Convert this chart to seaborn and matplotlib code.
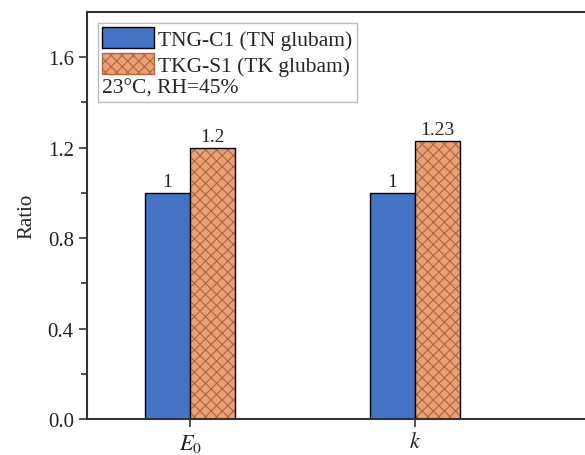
import seaborn as sns
import matplotlib.pyplot as plt
import pandas as pd
from matplotlib.patches import Rectangle

# Data
params = ["$E_0$", "$k$"]
specimens = ["TNG-C1 (TN glubam)", "TKG-S1 (TK glubam)"]
tn_ratio = [1.0, 1.0]
tk_ratio = [1.2, 1.23]
note = "23°C, RH=45%"

df = pd.DataFrame({
    "param": params * 2,
    "ratio": tn_ratio + tk_ratio,
    "specimen": [specimens[0]] * 2 + [specimens[1]] * 2,
})

sns.set_theme(style="ticks")
plt.rcParams["font.family"] = ["Liberation Serif", "DejaVu Serif"]
plt.rcParams["mathtext.fontset"] = "stix"
plt.rcParams["hatch.linewidth"] = 0.8

blue = "#4472C4"
orange = "#E8A074"
hatch_col = "#B0673F"

fig = plt.figure(figsize=(5.85, 4.56), dpi=100)
ax = fig.add_axes([87 / 585, 36 / 456, 533 / 585, 407 / 456])

sns.barplot(data=df, x="param", y="ratio", hue="specimen",
            palette=[blue, orange], saturation=1, width=0.4, edgecolor="black",
            linewidth=1, ax=ax)

# hatch the TK bars with a brownish cross pattern, keep black outline
for patch in ax.containers[1]:
    patch.set_hatch("xxx")
    patch.set_edgecolor(hatch_col)
    patch.set_linewidth(0)
    x, y = patch.get_xy()
    ax.add_patch(Rectangle((x, y), patch.get_width(), patch.get_height(),
                           fill=False, edgecolor="black", linewidth=1,
                           zorder=patch.get_zorder() + 0.1))

ax.bar_label(ax.containers[0], labels=[f"{v:g}" for v in tn_ratio], padding=2, fontsize=14)
ax.bar_label(ax.containers[1], labels=[f"{v:g}" for v in tk_ratio], padding=2, fontsize=14)

ax.set_xlim(-0.458, -0.458 + 533 / 225)
ax.set_ylim(0, 1.8)
ax.set_yticks([0.0, 0.4, 0.8, 1.2, 1.6])
ax.set_yticklabels(["0.0", "0.4", "0.8", "1.2", "1.6"])
ax.set_yticks([0.2, 0.6, 1.0, 1.4], minor=True)
ax.tick_params(axis="both", which="major", direction="out", length=6, width=1.2,
               labelsize=15, color="#333333", labelcolor="#222222")
ax.tick_params(axis="y", which="minor", direction="out", length=4, width=1.2, color="#333333")
ax.tick_params(axis="x", labelsize=16)
ax.set_xlabel("")
ax.set_ylabel("Ratio", fontsize=15, labelpad=8, color="#222222")

for s in ax.spines.values():
    s.set_linewidth(1.5)
    s.set_color("#333333")

# legend with the test condition placed as a bottom line
handles, labels = ax.get_legend_handles_labels()
for h in handles:
    h.set_linewidth(1)
handles[0].set_edgecolor("black")
handles[1].set_hatch("xxx")
handles[1].set_edgecolor(hatch_col)
leg = ax.legend(handles, labels, title=note, loc="upper left", fontsize=15.5,
                title_fontsize=15.5, alignment="left", frameon=True, fancybox=False,
                edgecolor="#aaaaaa", handlelength=2.4, handleheight=1.1,
                handletextpad=0.2, labelspacing=0.15, borderpad=0.2,
                borderaxespad=0.5)
leg.get_frame().set_linewidth(1)
leg._legend_box._children = leg._legend_box._children[::-1]

fig.savefig("out.png", dpi=100)
